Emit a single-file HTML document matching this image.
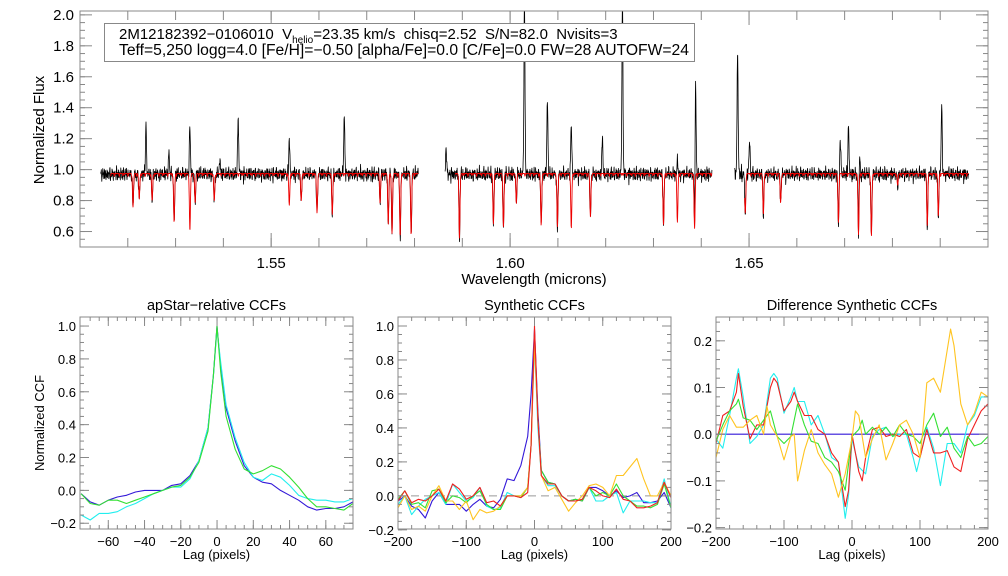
<!DOCTYPE html>
<html><head><meta charset="utf-8"><style>
html,body{margin:0;padding:0;background:#fff}
svg{display:block;font-family:"Liberation Sans",sans-serif}
</style></head><body>
<svg id="c" width="1008" height="576" viewBox="0 0 1008 576" xmlns="http://www.w3.org/2000/svg"></svg>
<script>
// ---------- data ----------
const specSegments=[[1.5143,1.5808],[1.5864,1.6423],[1.6470,1.6960]];
const emisWl=[1.5238,1.5286,1.5330,1.5393,1.5431,1.5538,1.5653,1.5866,1.6030,1.6078,1.6128,1.6193,1.6235,1.6350,1.6388,1.6476,1.6501,1.6691,1.6708,1.6731,1.6903];
const emisPeak=[1.29,1.11,1.64,1.07,1.35,1.40,1.36,1.15,2.1,1.46,1.66,1.20,2.1,1.37,1.60,1.78,1.20,1.20,1.28,1.13,1.42];
const absWl=[1.5211,1.5224,1.5251,1.5297,1.5330,1.5341,1.5381,1.5538,1.5563,1.5596,1.5628,1.5728,1.5745,1.5753,1.5770,1.5793,1.5894,1.5965,1.5986,1.6013,1.6065,1.6099,1.6128,1.6168,1.6321,1.6350,1.6386,1.6492,1.6530,1.6566,1.6687,1.6729,1.6756,1.6811,1.6873,1.6896];
const absMin=[0.77,0.81,0.80,0.66,0.62,0.79,0.80,0.77,0.80,0.72,0.71,0.80,0.66,0.60,0.57,0.59,0.57,0.65,0.63,0.80,0.64,0.63,0.62,0.70,0.64,0.66,0.62,0.72,0.72,0.79,0.66,0.58,0.57,0.90,0.65,0.70];
const p1Lag=[-75,-70,-65,-60,-55,-50,-45,-40,-35,-30,-25,-20,-15,-10,-5,-2,0,2,5,10,15,20,25,30,35,40,45,50,55,60,65,70,75];
const p1Blue=[-0.02,-0.07,-0.09,-0.06,-0.04,-0.03,-0.01,0.0,0.0,0.0,0.03,0.04,0.09,0.18,0.38,0.7,1.0,0.75,0.5,0.3,0.15,0.08,0.05,0.04,0.0,-0.03,-0.06,-0.1,-0.12,-0.11,-0.11,-0.1,-0.07];
const p1Cyan=[-0.15,-0.18,-0.14,-0.14,-0.13,-0.1,-0.08,-0.05,-0.02,0.0,0.02,0.02,0.07,0.18,0.38,0.7,0.98,0.78,0.52,0.32,0.17,0.08,0.06,0.1,0.08,0.03,-0.03,-0.05,-0.06,-0.06,-0.07,-0.07,-0.05];
const p1Green=[-0.02,-0.08,-0.09,-0.06,-0.06,-0.08,-0.06,-0.04,-0.02,0.0,0.02,0.03,0.08,0.17,0.36,0.7,1.0,0.72,0.45,0.25,0.13,0.1,0.12,0.15,0.13,0.08,0.02,-0.05,-0.1,-0.1,-0.11,-0.12,-0.08];
const p2Lag=[-200,-190,-180,-170,-160,-150,-140,-130,-120,-110,-100,-90,-80,-70,-60,-50,-40,-30,-20,-10,-5,0,5,10,20,30,40,50,60,70,80,90,100,110,120,130,140,150,160,170,180,190,200];
const p2Blue=[-0.03,0.0,-0.06,-0.08,-0.13,-0.03,0.02,-0.05,-0.05,-0.05,-0.09,-0.05,-0.02,-0.06,-0.07,-0.02,0.1,0.09,0.18,0.35,0.6,0.98,0.5,0.15,0.08,0.07,0.0,-0.03,-0.02,-0.03,0.05,0.05,0.03,0.0,0.03,-0.01,0.0,0.02,-0.04,-0.04,-0.03,0.02,-0.07];
const p2Cyan=[-0.05,0.0,-0.11,-0.06,-0.02,0.0,0.02,-0.05,0.07,0.02,-0.03,-0.01,0.05,-0.06,-0.08,-0.07,0.02,0.0,0.0,0.05,0.3,0.9,0.4,0.12,0.06,0.06,0.0,-0.03,-0.03,-0.02,0.05,-0.03,-0.03,0.0,0.02,-0.1,-0.03,-0.03,-0.03,-0.04,-0.04,0.1,-0.07];
const p2Green=[-0.02,0.03,-0.05,-0.04,-0.07,0.03,0.04,-0.04,0.0,-0.01,-0.04,0.0,0.03,-0.05,-0.08,-0.08,0.0,0.0,-0.01,0.05,0.3,0.95,0.45,0.15,0.08,0.07,0.0,-0.03,-0.02,-0.03,0.05,0.0,0.02,0.0,0.07,0.0,-0.03,-0.06,-0.06,-0.07,-0.05,0.07,-0.07];
const p2Yellow=[-0.07,0.0,-0.08,-0.06,-0.09,0.0,0.06,-0.03,-0.03,-0.08,-0.03,-0.14,-0.08,-0.1,-0.09,-0.06,0.0,0.0,0.0,0.05,0.3,0.9,0.45,0.12,0.03,0.05,-0.02,-0.09,-0.04,0.0,0.06,0.07,0.05,0.0,0.12,0.12,0.17,0.22,0.1,0.0,0.0,0.08,0.0];
const p2Red=[-0.03,0.03,-0.04,-0.02,-0.03,0.0,0.04,-0.03,0.07,0.04,-0.02,0.0,0.05,-0.04,-0.03,-0.06,0.0,0.0,-0.01,0.02,0.3,1.0,0.45,0.12,0.07,0.07,0.0,-0.03,-0.03,-0.02,0.05,0.03,0.0,-0.01,0.04,-0.02,-0.03,-0.07,-0.07,-0.06,-0.04,0.08,-0.01];
const p3CyanLag=[-200,-190,-180,-170,-167,-160,-150,-140,-130,-120,-115,-110,-100,-90,-85,-80,-70,-60,-50,-40,-30,-20,-10,-5,0,10,20,30,40,50,60,70,80,90,95,100,110,120,130,140,150,160,170,180,190,200];
const p3Cyan=[-0.01,-0.03,0.04,0.12,0.14,0.08,-0.02,-0.005,0.02,0.12,0.13,0.12,0.045,0.08,0.1,0.07,0.07,0.02,0.04,0.0,-0.05,-0.06,-0.18,-0.13,-0.01,-0.07,-0.085,-0.005,0.01,0.015,-0.005,0.0,0.0,-0.05,-0.08,-0.05,0.015,-0.03,-0.11,-0.02,-0.02,-0.04,0.02,0.04,0.08,0.08];
const p3RedLag=[-200,-190,-180,-170,-167,-160,-150,-140,-130,-120,-115,-110,-100,-90,-85,-80,-70,-60,-50,-40,-30,-20,-10,-5,0,10,15,20,30,40,50,60,70,80,90,100,110,120,130,140,150,160,170,180,190,200];
const p3Red=[-0.02,0.04,0.05,0.09,0.13,0.06,-0.01,0.02,0.02,0.1,0.12,0.11,0.05,0.07,0.09,0.07,0.04,0.04,0.01,0.0,-0.04,-0.06,-0.155,-0.12,0.0,-0.08,-0.1,-0.05,0.01,0.015,-0.005,0.0,-0.005,0.01,-0.04,-0.05,0.01,-0.04,-0.04,-0.035,-0.07,-0.08,-0.01,0.02,0.05,0.065];
const p3GreenLag=[-200,-190,-180,-170,-167,-160,-150,-140,-130,-120,-110,-100,-90,-80,-70,-60,-50,-40,-30,-20,-10,0,10,15,20,30,40,50,60,70,80,90,100,110,120,130,140,150,160,170,180,190,200];
const p3Green=[-0.015,0.02,0.05,0.065,0.075,0.035,0.03,0.01,0.03,0.05,-0.005,-0.02,-0.005,0.065,0.02,-0.015,-0.02,-0.05,-0.06,-0.08,-0.12,-0.005,0.01,0.03,0.0,0.015,0.0,0.015,-0.005,0.02,0.0,-0.005,-0.02,0.02,0.045,-0.005,0.015,-0.03,-0.05,-0.005,-0.025,-0.02,-0.005];
const p3YellowLag=[-200,-190,-180,-170,-160,-150,-140,-130,-125,-120,-110,-100,-90,-85,-80,-70,-60,-50,-40,-30,-20,-10,0,5,10,20,30,40,50,60,70,80,90,100,105,110,120,130,140,145,150,160,170,180,190,200];
const p3Yellow=[-0.05,0.01,0.04,0.015,0.015,0.03,0.04,0.0,0.06,0.02,-0.005,-0.055,-0.005,0.0,-0.1,-0.035,0.01,-0.04,-0.065,-0.085,-0.135,-0.085,-0.01,0.05,0.04,-0.05,-0.01,0.02,-0.055,-0.02,0.02,0.03,0.0,-0.05,0.02,0.11,0.12,0.09,0.18,0.225,0.19,0.065,0.02,0.045,0.09,0.08];
const p3BlueLag=[-200,200];
const p3Blue=[0,0];

// ---------- helpers ----------
const svg=document.getElementById('c');
const NS='http://www.w3.org/2000/svg';
function mk(tag,attrs,parent){const e=document.createElementNS(NS,tag);for(const k in attrs)e.setAttribute(k,attrs[k]);(parent||svg).appendChild(e);return e;}
function txt(x,y,s,size,anchor,parent,rot){const t=mk('text',{x:x,y:y,'font-size':size,'text-anchor':anchor||'middle',fill:'#000'},parent);if(rot)t.setAttribute('transform','rotate(-90 '+x+' '+y+')');t.textContent=s;return t;}
function lin(d0,d1,r0,r1){return v=>r0+(v-d0)*(r1-r0)/(d1-d0);}
const AX='#888';

function frame(g,x0,y0,x1,y1){
  mk('rect',{x:x0,y:y0,width:x1-x0,height:y1-y0,fill:'none',stroke:AX,'stroke-width':1},g);
}
function ticksX(g,sx,y0,y1,vals,len,labels,fs,ly){
  vals.forEach(v=>{const x=sx(v);mk('line',{x1:x,x2:x,y1:y1,y2:y1-len,stroke:AX},g);mk('line',{x1:x,x2:x,y1:y0,y2:y0+len,stroke:AX},g);});
  if(labels)labels.forEach(([v,s])=>{const t=txt(sx(v),ly,s,fs,'middle',g);});
}
function ticksY(g,sy,x0,x1,vals,len,labels,fs,lx){
  vals.forEach(v=>{const y=sy(v);mk('line',{x1:x0,x2:x0+len,y1:y,y2:y,stroke:AX},g);mk('line',{x1:x1,x2:x1-len,y1:y,y2:y,stroke:AX},g);});
  if(labels)labels.forEach(([v,s])=>{const t=txt(lx,sy(v)+5,s,fs,'end',g);});
}
function range(a,b,s){const r=[];for(let v=a;v<=b+1e-9;v+=s)r.push(+v.toFixed(6));return r;}
function poly(g,xs,ys,sx,sy,color,name,w){
  const pts=xs.map((x,i)=>sx(x).toFixed(1)+','+sy(ys[i]).toFixed(1)).join(' ');
  const p=mk('polyline',{points:pts,fill:'none',stroke:color,'stroke-width':w||1.1,'stroke-linejoin':'round'},g);
  
  
  return p;
}

// ---------- top spectrum panel ----------
{
const g=mk('g',{});


const X0=80,X1=988,Y0=11,Y1=247;
const sx=lin(1.51,1.70,X0,X1), sy=lin(0.5,2.025,Y1,Y0);
const cp=mk('clipPath',{id:'cpTop'},g);mk('rect',{x:X0,y:Y0,width:X1-X0,height:Y1-Y0},cp);
const dg=mk('g',{'clip-path':'url(#cpTop)'},g);
const sig=0.00011;
function tex(w){return Math.sin(w*17300)*Math.sin(w*4130+1)+0.7*Math.sin(w*29100+2)*Math.sin(w*2290)+0.5*Math.sin(w*41700+0.5);}
function model(w){let f=0.975-0.012*Math.max(0,Math.sin(w*12100)*Math.sin(w*5300+0.3)-0.2)*2;
  absWl.forEach((a,i)=>{f+=(absMin[i]-0.975)*Math.exp(-0.5*((w-a)/sig)**2);});return f;}
function obs(w){let t=tex(w);let f=model(w)+0.03*t-0.05*Math.max(0,Math.sin(w*23900+0.7)*Math.sin(w*3170)-0.6);
  emisWl.forEach((a,i)=>{f+=(emisPeak[i]-0.975)*Math.exp(-0.5*((w-a)/sig)**2);});return f;}
const dw=(1.70-1.51)/(X1-X0)/4;
specSegments.forEach(([a,b],k)=>{
  const xs=[],yb=[],yr=[];
  for(let w=a;w<=b;w+=dw){xs.push(w);yb.push(obs(w));yr.push(model(w));}
  poly(dg,xs,yb,sx,sy,'#000','observed-spectrum-segment-'+(k+1),0.8);
  poly(dg,xs.slice(40),yr.slice(40),sx,sy,'#ee0000','model-spectrum-segment-'+(k+1),0.9);
});
frame(g,X0,Y0,X1,Y1);
ticksX(g,sx,Y0,Y1,range(1.51,1.70,0.01),9,null);
ticksX(g,sx,Y0,Y1,[1.55,1.60,1.65],14,[[1.55,'1.55'],[1.60,'1.60'],[1.65,'1.65']],15,268);
ticksY(g,sy,X0,X1,range(0.55,2.0,0.05),5,null);
ticksY(g,sy,X0,X1,range(0.6,2.0,0.2),12,range(0.6,2.0,0.2).map(v=>[v,v.toFixed(1)]),15,74);
const xt=txt(534,284,'Wavelength (microns)',15,'middle',g);
const yt=txt(44,130,'Normalized Flux',15,'middle',g,true);
const lg=mk('g',{},g);
mk('rect',{x:104.5,y:23.5,width:590,height:38,fill:'#fff',stroke:AX},lg);
const t1=mk('text',{x:119,y:39,'font-size':15,'xml:space':'preserve'},lg);
t1.setAttribute('style','white-space:pre');
t1.innerHTML='2M12182392\u22120106010  V<tspan font-size="10" dy="4">helio</tspan><tspan dy="-4">=23.35 km/s  chisq=2.52  S/N=82.0  Nvisits=3</tspan>';
const t2=txt(119,55,'Teff=5,250 logg=4.0 [Fe/H]=\u22120.50 [alpha/Fe]=0.0 [C/Fe]=0.0 FW=28 AUTOFW=24',15.5,'start',lg);
t2.setAttribute('textLength','570');t2.setAttribute('lengthAdjust','spacingAndGlyphs');
}

// ---------- CCF panels ----------
function ccfPanel(name,title,X0,X1,xd,yd,xmaj,xmin,xlab,ymaj,ymin,ylab,series,zeroLine){
  const g=mk('g',{});
  
  
  const Y0=317,Y1=529;
  const sx=lin(xd[0],xd[1],X0,X1), sy=lin(yd[0],yd[1],Y1,Y0);
  const id='cp'+name;const cp=mk('clipPath',{id:id},g);mk('rect',{x:X0,y:Y0,width:X1-X0,height:Y1-Y0},cp);
  const dg=mk('g',{'clip-path':'url(#'+id+')'},g);
  if(zeroLine==='dash'){const l=mk('line',{x1:X0,x2:X1,y1:sy(0),y2:sy(0),stroke:'#999','stroke-dasharray':'8,5'},dg);}
  series.forEach(([xs,ys,c,n])=>poly(dg,xs,ys,sx,sy,c,n,1.1));
  frame(g,X0,Y0,X1,Y1);
  ticksX(g,sx,Y0,Y1,xmin,4,null);
  ticksX(g,sx,Y0,Y1,xmaj,9,xlab,13,546);
  ticksY(g,sy,X0,X1,ymin,4,null);
  ticksY(g,sy,X0,X1,ymaj,9,ylab,13,X0-4);
  const tt=txt((X0+X1)/2,310,title,14.5,'middle',g);
  const xt=txt((X0+X1)/2,559,'Lag (pixels)',13,'middle',g);
  return g;
}
const lab=(a,f)=>a.map(v=>[v,f(v)]);
const neg=s=>s.replace('-','\u2212');
const BLUE='#3318d8',CYAN='#22eeee',GREEN='#33e033',YEL='#ffc420',RED='#f02020';
ccfPanel('apstar-ccf-panel','apStar\u2212relative CCFs',80,353,[-75.6,75],[-0.235,1.055],
  range(-60,60,20),range(-70,70,5),lab(range(-60,60,20),v=>neg(String(v))),
  range(-0.2,1.0,0.2),range(-0.2,1.0,0.05),lab(range(-0.2,1.0,0.2),v=>neg(v.toFixed(1))),
  [[p1Lag,p1Blue,BLUE,'ccf-blue'],[p1Lag,p1Cyan,CYAN,'ccf-cyan'],[p1Lag,p1Green,GREEN,'ccf-green']]);
const ya=txt(44,423,'Normalized CCF',13,'middle',svg,true);
ccfPanel('synthetic-ccf-panel','Synthetic CCFs',398,671,[-200,200],[-0.195,1.053],
  range(-200,200,100),range(-200,200,20),lab(range(-200,200,100),v=>neg(String(v))),
  range(-0.2,1.0,0.2),range(-0.2,1.0,0.05),lab(range(-0.2,1.0,0.2),v=>neg(v.toFixed(1))),
  [[p2Lag,p2Blue,BLUE,'ccf-blue'],[p2Lag,p2Cyan,CYAN,'ccf-cyan'],[p2Lag,p2Green,GREEN,'ccf-green'],[p2Lag,p2Yellow,YEL,'ccf-yellow'],[p2Lag,p2Red,RED,'ccf-red']],'dash');
ccfPanel('difference-ccf-panel','Difference Synthetic CCFs',716,988,[-200,200],[-0.203,0.251],
  range(-200,200,100),range(-200,200,20),lab(range(-200,200,100),v=>neg(String(v))),
  range(-0.2,0.2,0.1),range(-0.2,0.25,0.02),lab(range(-0.2,0.2,0.1),v=>neg(v.toFixed(1))),
  [[p3BlueLag,p3Blue,BLUE,'diff-blue'],[p3CyanLag,p3Cyan,CYAN,'diff-cyan'],[p3RedLag,p3Red,RED,'diff-red'],[p3GreenLag,p3Green,GREEN,'diff-green'],[p3YellowLag,p3Yellow,YEL,'diff-yellow']]);
</script>
</body></html>
